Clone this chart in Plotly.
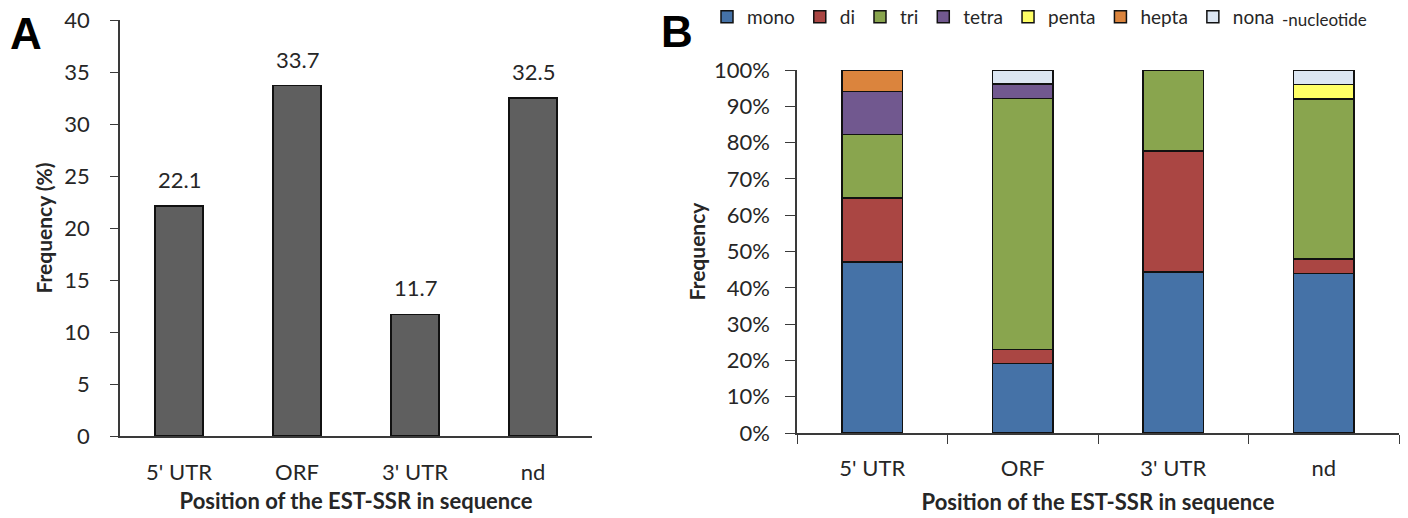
import plotly.graph_objects as go

positions = ["5' UTR", "ORF", "3' UTR", "nd"]
freq_pct = [22.1, 33.7, 11.7, 32.5]
freq_labels = ["22.1", "33.7", "11.7", "32.5"]

motif_names = ["mono", "di", "tri", "tetra", "penta", "hepta", "nona"]
motif_colors = ["#4572A7", "#AA4643", "#89A54E", "#71588F", "#FFFF66", "#DB843D", "#DCE6F2"]
# share of each motif type per position (fraction)
mono = [0.471, 0.192, 0.444, 0.44]
di = [0.176, 0.038, 0.333, 0.04]
tri = [0.176, 0.692, 0.222, 0.44]
tetra = [0.118, 0.039, 0.0, 0.0]
penta = [0.0, 0.0, 0.0, 0.04]
hepta = [0.059, 0.0, 0.0, 0.0]
nona = [0.0, 0.039, 0.0, 0.04]
motif_values = [mono, di, tri, tetra, penta, hepta, nona]

W, H = 1408, 518
FONT = "Lato"
AX = "#3a3a3a"
TXT = "#262626"

fig = go.Figure()

fig.add_trace(go.Bar(
    x=positions, y=freq_pct,
    marker=dict(color="#5f5f5f", line=dict(color="#111", width=1.5)),
    width=0.41, showlegend=False, xaxis="x", yaxis="y", hoverinfo="skip"))

for name, col, vals in zip(motif_names, motif_colors, motif_values):
    fig.add_trace(go.Bar(
        x=positions, y=vals, name=name,
        marker=dict(color=col, line=dict(color="#111", width=1.5)),
        width=0.4, xaxis="x2", yaxis="y2"))

def px(x):
    return x / W

def py(y):
    return (H - y) / H

axis_common = dict(showgrid=False, zeroline=False, showline=True, linecolor=AX, linewidth=1.5,
                   tickfont=dict(family=FONT, size=22, color=TXT), tickcolor=AX, automargin=False)

annots = [
    dict(text="<b>A</b>", x=px(26), y=py(34), xref="paper", yref="paper", showarrow=False,
         xanchor="center", yanchor="middle",
         font=dict(family="Liberation Sans", size=44, color="#000")),
    dict(text="<b>B</b>", x=px(677), y=py(32), xref="paper", yref="paper", showarrow=False,
         xanchor="center", yanchor="middle",
         font=dict(family="Liberation Sans", size=44, color="#000")),
    dict(text="-nucleotide", x=px(1280), y=py(19), xref="paper", yref="paper", xanchor="left",
         yanchor="middle", showarrow=False, font=dict(family=FONT, size=17, color=TXT)),
]
for cat, val, lab in zip(positions, freq_pct, freq_labels):
    annots.append(dict(text=lab, x=cat, y=val, xref="x", yref="y", showarrow=False,
                       xanchor="center", yanchor="bottom", yshift=11,
                       font=dict(family=FONT, size=22, color=TXT)))

fig.update_layout(
    width=W, height=H, margin=dict(l=0, r=0, t=0, b=0, autoexpand=False),
    paper_bgcolor="white", plot_bgcolor="white",
    barmode="stack", font=dict(family=FONT, color=TXT),
    xaxis=dict(domain=[px(120), px(592)], anchor="y", range=[-0.5, 3.5], ticks="",
               ticklabelstandoff=16,
               title=dict(text="<b>Position of the EST-SSR in sequence</b>", font=dict(size=22), standoff=9),
               **axis_common),
    yaxis=dict(domain=[py(436), py(20)], anchor="x", range=[0, 40], dtick=5, ticks="outside", ticklen=8,
               ticklabelstandoff=16,
               title=dict(text="<b>Frequency (%)</b>", font=dict(size=21), standoff=6),
               **axis_common),
    xaxis2=dict(domain=[px(797), px(1399)], anchor="y2", range=[-0.5, 3.5], ticks="outside",
                tickson="boundaries", ticklen=9, ticklabelstandoff=15,
                title=dict(text="<b>Position of the EST-SSR in sequence</b>", font=dict(size=22), standoff=14),
                **axis_common),
    yaxis2=dict(domain=[py(433), py(70)], anchor="x2", range=[0, 1], dtick=0.1, tickformat=".0%",
                ticks="outside", ticklen=10, ticklabelstandoff=11,
                title=dict(text="<b>Frequency</b>", font=dict(size=21), standoff=3),
                **axis_common),
    legend=dict(orientation="h", x=px(707), xanchor="left", y=py(17), yanchor="middle",
                font=dict(family=FONT, size=19, color=TXT), itemwidth=30,
                bgcolor="rgba(0,0,0,0)", traceorder="normal"),
    annotations=annots,
)

fig.write_html("out.html", config={"displayModeBar": False},
               post_script="document.body.style.margin='0';")
